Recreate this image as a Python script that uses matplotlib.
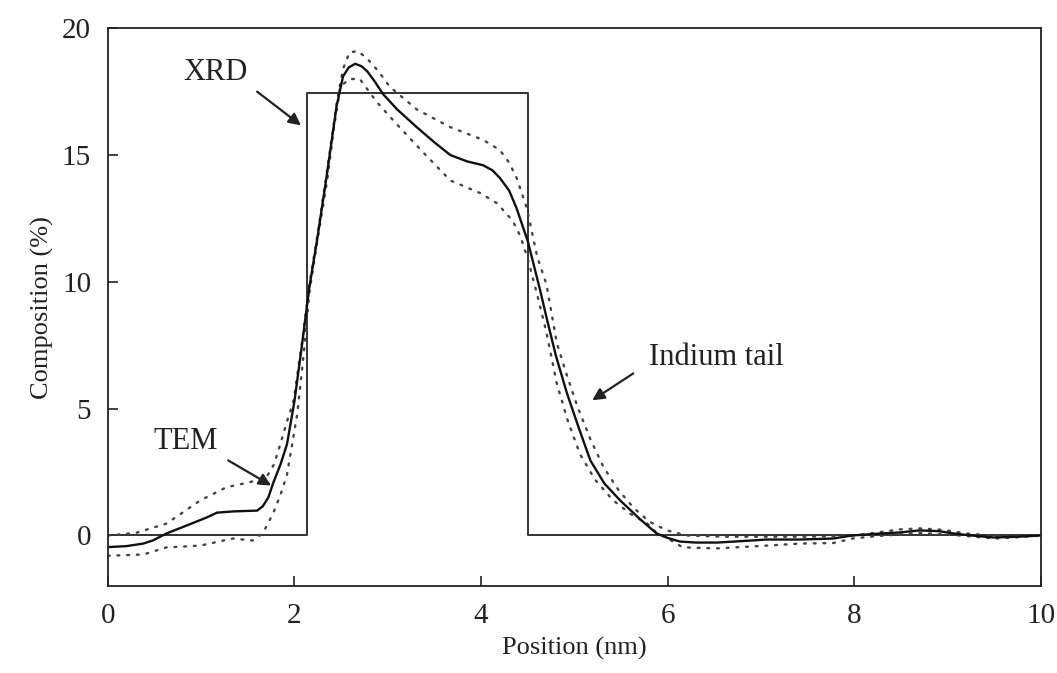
import matplotlib
matplotlib.use("Agg")
import matplotlib.pyplot as plt

# TEM profile (solid)
tem_x = [0.0, 0.2, 0.38, 0.48, 0.63, 0.85, 1.06, 1.17, 1.35, 1.6, 1.66, 1.72, 1.77, 1.85, 1.92, 2.0,
         2.08, 2.16, 2.24, 2.35, 2.45, 2.52, 2.58, 2.65, 2.72, 2.78, 2.86, 2.95, 3.1, 3.31, 3.5,
         3.67, 3.85, 4.02, 4.12, 4.2, 4.3, 4.38, 4.5, 4.63, 4.7, 4.8, 4.92, 5.05, 5.17, 5.32,
         5.49, 5.7, 5.88, 6.0, 6.13, 6.3, 6.53, 6.8, 7.06, 7.42, 7.77, 7.98, 8.25, 8.49, 8.7,
         8.9, 9.06, 9.25, 9.49, 9.75, 10.0]
tem_y = [-0.46, -0.42, -0.32, -0.2, 0.08, 0.4, 0.71, 0.9, 0.95, 0.98, 1.15, 1.5, 2.05, 2.8, 3.6, 5.3,
         7.5, 9.8, 11.6, 14.3, 16.9, 18.1, 18.45, 18.6, 18.5, 18.3, 17.9, 17.4, 16.8, 16.1, 15.5,
         15.0, 14.75, 14.6, 14.4, 14.1, 13.6, 12.9, 11.6, 9.7, 8.6, 7.1, 5.6, 4.2, 2.96, 2.05,
         1.38, 0.65, 0.08, -0.1, -0.24, -0.28, -0.28, -0.22, -0.16, -0.16, -0.12, 0.0, 0.07, 0.12, 0.2,
         0.17, 0.08, 0.0, -0.08, -0.05, 0.0]

# upper error bound (dotted)
up_x = [0.0, 0.3, 0.63, 0.8, 0.99, 1.27, 1.52, 1.7, 1.78, 1.84, 1.92, 1.99, 2.08, 2.16, 2.24,
        2.35, 2.45, 2.52, 2.59, 2.68, 2.78, 2.9, 3.02, 3.31, 3.67, 4.02, 4.2, 4.3, 4.38, 4.49,
        4.6, 4.7, 4.81, 4.92, 5.03, 5.17, 5.31, 5.47, 5.63, 5.8, 5.99, 6.2, 6.6, 7.0, 7.5, 8.0,
        8.25, 8.49, 8.7, 8.95, 9.2, 9.5, 10.0]
up_y = [0.0, 0.1, 0.47, 0.9, 1.38, 1.9, 2.1, 2.3, 2.8, 3.5, 4.5, 5.3, 7.6, 9.9, 11.7,
        14.4, 17.0, 18.4, 19.05, 19.1, 18.8, 18.3, 17.7, 16.8, 16.1, 15.6, 15.2, 14.7, 14.1, 12.9,
        11.0, 9.9, 7.6, 6.3, 5.1, 3.8, 2.7, 1.8, 1.1, 0.55, 0.2, 0.0, -0.05, -0.05, -0.05, 0.0,
        0.12, 0.24, 0.28, 0.22, 0.08, -0.02, 0.0]

# lower error bound (dotted)
lo_x = [0.0, 0.38, 0.63, 0.99, 1.34, 1.55, 1.66, 1.77, 1.85, 1.92, 2.03, 2.1, 2.16, 2.24, 2.35,
        2.42, 2.49, 2.59, 2.7, 2.88, 3.1, 3.38, 3.67, 3.99, 4.17, 4.34, 4.42, 4.5, 4.6, 4.7,
        4.81, 4.93, 5.06, 5.22, 5.41, 5.6, 5.78, 5.88, 6.0, 6.16, 6.53, 7.06, 7.42, 7.77, 7.98,
        8.25, 8.49, 8.7, 9.06, 9.5, 9.8, 10.0]
lo_y = [-0.8, -0.75, -0.47, -0.4, -0.12, -0.2, 0.08, 0.86, 1.6, 2.4, 4.8, 7.2, 9.6, 11.5, 14.0,
        16.0, 17.7, 18.0, 18.0, 17.1, 16.2, 15.1, 14.0, 13.5, 13.1, 12.4, 11.8, 10.9, 9.5, 8.0,
        6.0, 4.5, 3.2, 2.2, 1.4, 0.85, 0.47, 0.1, -0.12, -0.47, -0.51, -0.4, -0.32, -0.3, -0.12,
        -0.02, 0.04, 0.1, 0.02, -0.12, -0.06, 0.0]

# XRD square profile
xrd_x = [0.0, 2.13, 2.13, 4.5, 4.5, 10.0]
xrd_y = [0.0, 0.0, 17.44, 17.44, 0.0, 0.0]

plt.rcParams["font.family"] = ["Liberation Serif", "DejaVu Serif"]

fig = plt.figure(figsize=(10.57, 6.73), dpi=100)
ax = fig.add_axes([0.102, 0.129, 0.883, 0.829])

ax.plot(xrd_x, xrd_y, color="#333333", lw=1.4)
ax.plot(up_x, up_y, color="#444444", lw=1.7, linestyle=(0, (0.8, 3.3)), dash_capstyle="round")
ax.plot(lo_x, lo_y, color="#444444", lw=1.7, linestyle=(0, (0.8, 3.3)), dash_capstyle="round")
ax.plot(tem_x, tem_y, color="#111111", lw=1.7)

ax.set_xlim(0, 10)
ax.set_ylim(-2, 20)
ax.set_xticks([0, 2, 4, 6, 8, 10])
ax.set_yticks([0, 5, 10, 15, 20])
ax.tick_params(direction="in", length=7, width=1.2, top=False, right=False, labelsize=21,
               pad=12, colors="#222222")
for s in ax.spines.values():
    s.set_linewidth(1.3)
    s.set_color("#222222")

ax.set_xlabel("Position (nm)", fontsize=19, labelpad=6, color="#222222")
ax.set_ylabel("Composition (%)", fontsize=19, labelpad=6, color="#222222")

arrow = dict(arrowstyle="-|>", color="#222222", lw=1.6, mutation_scale=18, shrinkA=0, shrinkB=0)
ax.annotate("", xy=(2.07, 16.17), xytext=(1.6, 17.5), arrowprops=arrow)
ax.annotate("", xy=(1.75, 1.97), xytext=(1.29, 2.96), arrowprops=arrow)
ax.annotate("", xy=(5.19, 5.33), xytext=(5.63, 6.39), arrowprops=arrow)
ax.text(1.15, 18.24, "XRD", fontsize=22, ha="center", va="center", color="#222222")
ax.text(0.83, 3.71, "TEM", fontsize=22, ha="center", va="center", color="#222222")
ax.text(6.52, 7.0, "Indium tail", fontsize=22, ha="center", va="center", color="#222222")

fig.savefig("out.png", dpi=100)
